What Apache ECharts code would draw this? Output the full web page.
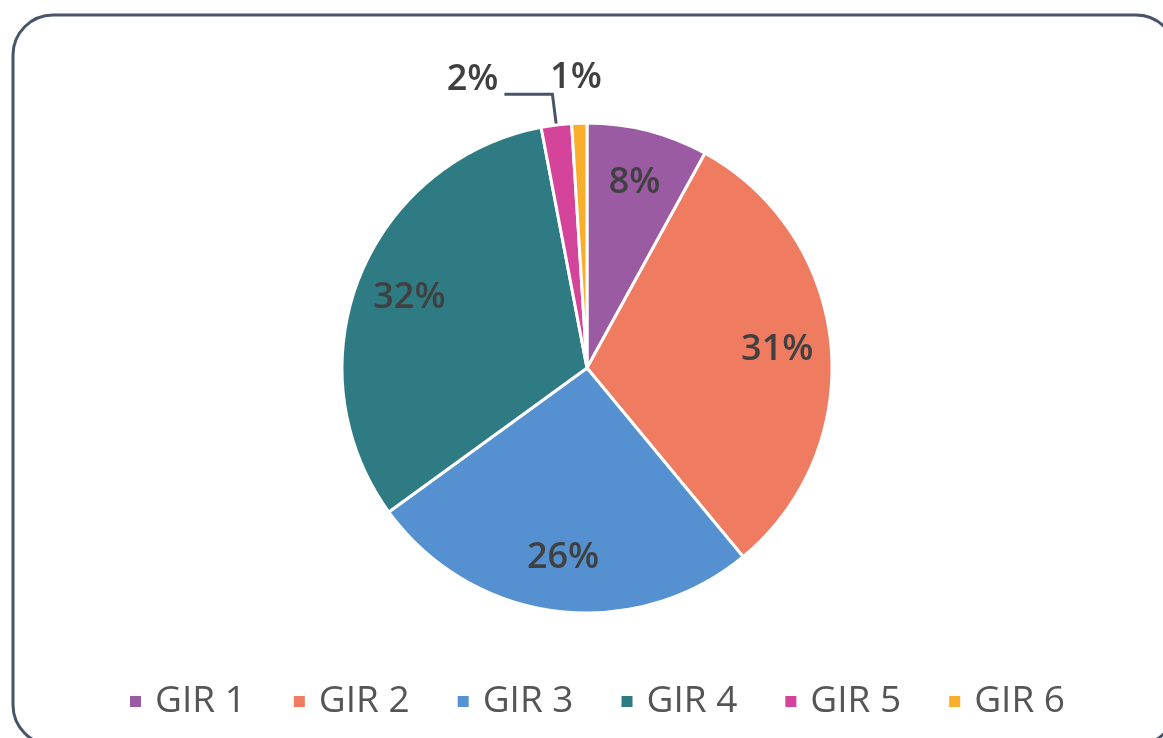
<!DOCTYPE html>
<html lang="fr">
<head>
  <meta charset="UTF-8">
  <title>Répartition GIR</title>
  <script src="https://cdn.jsdelivr.net/npm/echarts@6/dist/echarts.min.js"></script>
  <style>
    html, body { margin: 0; padding: 0; background: #fff; }
    #chart { width: 1163px; height: 738px; }
  </style>
</head>
<body>
<div id="chart"></div>
<script>
  // données
  const categories = ['GIR 1', 'GIR 2', 'GIR 3', 'GIR 4', 'GIR 5', 'GIR 6'];
  const values = [8, 31, 26, 32, 2, 1];
  const colors = ['#9a5ba3', '#ef7b61', '#5591d0', '#2e7b84', '#d4449a', '#f9ae2c'];

  const CENTER = [587, 368];
  const R = 245;
  const FONT = "'Open Sans', 'Noto Sans', sans-serif";

  const chart = echarts.init(document.getElementById('chart'));

  // petites parts : étiquette à l'extérieur
  const isSmall = v => v < 5;

  const mainData = categories.map((name, i) => ({
    name: name,
    value: values[i],
    itemStyle: { color: colors[i] },
    label: { show: isSmall(values[i]) },
    labelLine: {
      show: i === 4,
      length: i === 4 ? 31 : 45,
      length2: i === 4 ? 48 : 0
    }
  }));

  const labelData = categories.map((name, i) => ({
    name: name,
    value: values[i],
    label: { show: !isSmall(values[i]) }
  }));

  chart.setOption({
    animation: false,
    graphic: [{
      type: 'rect',
      z: -1,
      shape: { x: 13, y: 15, width: 1163, height: 730, r: 40 },
      style: { fill: 'none', stroke: '#4a5468', lineWidth: 3 }
    }],
    legend: {
      data: categories,
      left: 123,
      top: 678,
      icon: 'rect',
      itemWidth: 13,
      itemHeight: 13,
      itemGap: 46,
      textStyle: {
        fontFamily: FONT,
        fontSize: 37,
        color: '#555555',
        padding: [0, 0, 0, 8]
      }
    },
    series: [{
      name: 'GIR',
      type: 'pie',
      center: CENTER,
      radius: R,
      startAngle: 90,
      clockwise: true,
      avoidLabelOverlap: false,
      itemStyle: { borderColor: '#ffffff', borderWidth: 3 },
      label: {
        position: 'outside',
        formatter: '{c}%',
        fontFamily: FONT,
        fontWeight: 600,
        fontSize: 36,
        color: '#404040',
        distanceToLabelLine: 6
      },
      labelLine: { lineStyle: { color: '#4a5468', width: 3 } },
      labelLayout: function (params) {
        if (params.dataIndex === 4) return { dy: -14 };
        if (params.dataIndex === 5) return { align: 'center', dx: 4 };
      },
      emphasis: { disabled: true },
      data: mainData
    }, {
      name: 'labels',
      type: 'pie',
      center: CENTER,
      radius: [R * 0.535, R],
      startAngle: 90,
      clockwise: true,
      silent: true,
      itemStyle: { color: 'rgba(0,0,0,0)' },
      label: {
        position: 'inside',
        formatter: '{c}%',
        fontFamily: FONT,
        fontWeight: 600,
        fontSize: 36,
        color: '#404040',
        padding: [8, 0, 0, 0]
      },
      labelLine: { show: false },
      emphasis: { disabled: true },
      data: labelData
    }]
  });
</script>
</body>
</html>
